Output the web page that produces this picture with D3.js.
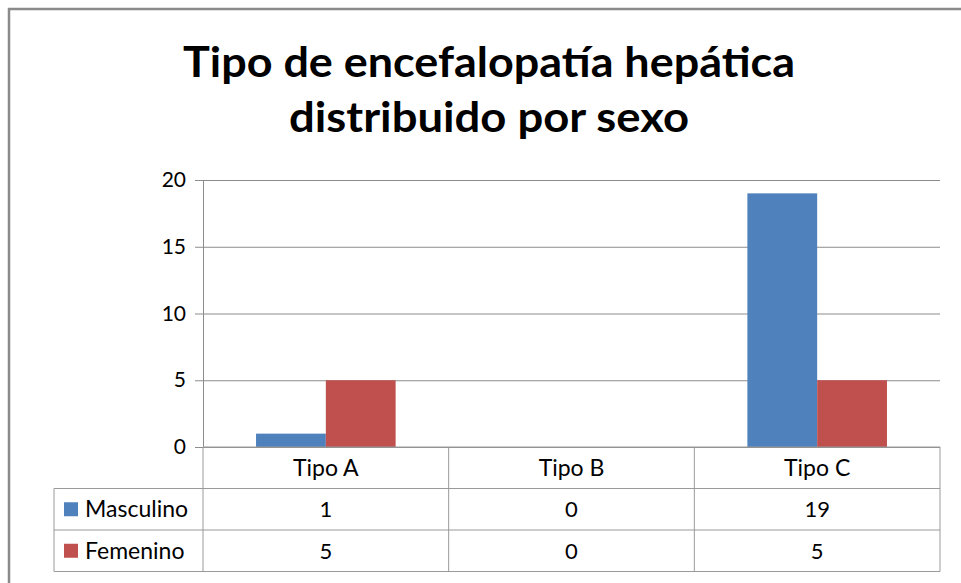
<!DOCTYPE html>
<html>
  <head>
    <meta charset="UTF-8">
    <script src="https://d3js.org/d3.v7.min.js"></script>
    <style>
      body { margin: 0; background: #fff; }
      svg text { font-family: Lato, "Open Sans", sans-serif; fill: #000; }
      .grid .domain { stroke: none; }
      .grid line { stroke: #8c8c8c; }
      .yaxis .domain { stroke: #8c8c8c; }
      .yaxis line { stroke: #8c8c8c; }
    </style>
    <title>Tipo de encefalopatía hepática</title>
  </head>
  <body>
    <svg id="chart" width="961" height="583"></svg>
    <script>
      // data
      const categories = ["Tipo A", "Tipo B", "Tipo C"];
      const seriesNames = ["Masculino", "Femenino"];
      const masculino = [1, 0, 19];
      const femenino = [5, 0, 5];
      const seriesColors = ["#4f81bd", "#c0504d"];
      const yTicks = [0, 5, 10, 15, 20];
      const titleLines = ["Tipo de encefalopatía hepática", "distribuido por sexo"];

      const svg = d3.select("svg#chart");
      const margin = { top: 180, left: 203, right: 21, bottom: 136 };
      const width = 961 - margin.left - margin.right;
      const height = 583 - margin.top - margin.bottom;
      const rowH = 41.5;
      const tableLeft = 54;

      // outer chart frame (runs off the picture on the right and bottom)
      svg.append("rect")
         .attr("x", 9).attr("y", 9)
         .attr("width", 1000).attr("height", 700)
         .attr("fill", "none")
         .attr("stroke", "#8a8a8a")
         .attr("stroke-width", 2.5);

      // title
      const titleWidths = [612, 400];
      svg.selectAll("text.title").data(titleLines)
         .enter().append("text")
         .attr("class", "title")
         .attr("x", 489)
         .attr("y", (d, i) => 77 + i * 55)
         .attr("text-anchor", "middle")
         .attr("font-size", 42)
         .attr("font-weight", "bold")
         .attr("textLength", (d, i) => titleWidths[i])
         .attr("lengthAdjust", "spacingAndGlyphs")
         .text(d => d);

      const plot = svg.append("g")
                      .attr("transform", "translate(" + margin.left + "," + margin.top + ")");

      const x = d3.scaleBand().domain(categories).range([0, width]);
      const xSub = d3.scaleBand().domain(seriesNames).range([0, x.bandwidth()]).paddingOuter(0.76);
      const y = d3.scaleLinear().domain([0, 20]).range([height, 0]);

      // gridlines
      plot.append("g")
          .attr("class", "grid")
          .call(d3.axisLeft(y).tickValues(yTicks).tickFormat("").tickSize(-width));

      // y axis
      const yAxis = plot.append("g")
          .attr("class", "yaxis")
          .call(d3.axisLeft(y).tickValues(yTicks).tickSize(8).tickPadding(9).tickSizeOuter(0));
      yAxis.selectAll("text").attr("font-size", 21).style("font-family", "Lato, sans-serif").attr("fill", "#000");

      // bars
      const rows = categories.map((c, i) => ({ cat: c, values: [masculino[i], femenino[i]] }));
      const groups = plot.selectAll("g.cat").data(rows)
          .enter().append("g")
          .attr("class", "cat")
          .attr("transform", d => "translate(" + x(d.cat) + ",0)");
      groups.selectAll("rect")
          .data(d => d.values.map((v, j) => ({ name: seriesNames[j], v: v, color: seriesColors[j] })))
          .enter().append("rect")
          .attr("x", d => xSub(d.name))
          .attr("width", xSub.bandwidth())
          .attr("y", d => y(d.v))
          .attr("height", d => height - y(d.v))
          .attr("fill", d => d.color);

      // data table under the plot
      const table = plot.append("g").attr("transform", "translate(0," + height + ")");
      const tl = "#9a9a9a";
      const tableX0 = tableLeft - margin.left;

      // horizontal lines
      table.append("line").attr("x1", 0).attr("x2", width).attr("y1", 0).attr("y2", 0).attr("stroke", tl);
      [1, 2, 3].forEach(r => {
        table.append("line")
             .attr("x1", tableX0).attr("x2", width)
             .attr("y1", r * rowH).attr("y2", r * rowH)
             .attr("stroke", tl);
      });
      // vertical lines
      const colEdges = categories.map(c => x(c)).concat([width]);
      table.selectAll("line.col").data(colEdges)
           .enter().append("line")
           .attr("class", "col")
           .attr("x1", d => d).attr("x2", d => d)
           .attr("y1", 0).attr("y2", 3 * rowH)
           .attr("stroke", tl);
      table.append("line")
           .attr("x1", tableX0).attr("x2", tableX0)
           .attr("y1", rowH).attr("y2", 3 * rowH)
           .attr("stroke", tl);

      // header labels
      table.selectAll("text.head").data(categories)
           .enter().append("text")
           .attr("class", "head")
           .attr("x", d => x(d) + x.bandwidth() / 2)
           .attr("y", rowH / 2 + 8)
           .attr("text-anchor", "middle")
           .attr("font-size", 23)
           .text(d => d);

      // legend column + values
      const seriesData = [masculino, femenino];
      seriesNames.forEach((name, j) => {
        const yMid = (j + 1) * rowH + rowH / 2;
        table.append("rect")
             .attr("x", tableX0 + 10).attr("y", yMid - 7)
             .attr("width", 14).attr("height", 14)
             .attr("fill", seriesColors[j]);
        table.append("text")
             .attr("x", tableX0 + 31).attr("y", yMid + 8)
             .attr("font-size", 23)
             .text(name);
        table.selectAll("text.val" + j).data(seriesData[j])
             .enter().append("text")
             .attr("class", "val" + j)
             .attr("x", (d, i) => x(categories[i]) + x.bandwidth() / 2)
             .attr("y", yMid + 8)
             .attr("text-anchor", "middle")
             .attr("font-size", 22)
             .text(d => d);
      });
    </script>
  </body>
</html>
